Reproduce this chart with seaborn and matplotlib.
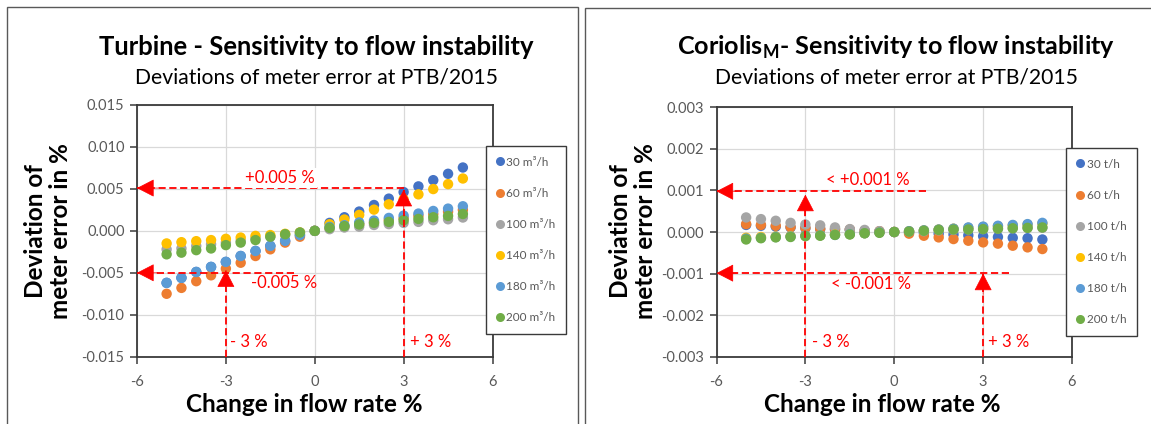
import matplotlib
matplotlib.use("Agg")
import matplotlib.pyplot as plt
import numpy as np
import pandas as pd
import seaborn as sns
from matplotlib.lines import Line2D
from matplotlib.patches import Rectangle

# ---------------- data ----------------
change_pct = [-5.0, -4.5, -4.0, -3.5, -3.0, -2.5, -2.0, -1.5, -1.0, -0.5, 0.0,
              0.5, 1.0, 1.5, 2.0, 2.5, 3.0, 3.5, 4.0, 4.5, 5.0]

turbine_labels = ["30 m³/h", "60 m³/h", "100 m³/h", "140 m³/h", "180 m³/h", "200 m³/h"]
turbine_30 = [-0.0062, -0.0056, -0.0049, -0.0043, -0.0037, -0.0030, -0.0024, -0.0018, -0.0012, -0.0005, 0.0,
              0.00095, 0.00162, 0.0023, 0.00308, 0.00384, 0.00462, 0.0053, 0.00604, 0.0068, 0.00755]
turbine_60 = [-0.0075, -0.0068, -0.0060, -0.0053, -0.0045, -0.0038, -0.0030, -0.0022, -0.0014, -0.0007, 0.0,
              0.0003, 0.0005, 0.0008, 0.0010, 0.0013, 0.0015, 0.0018, 0.0020, 0.0023, 0.0025]
turbine_100 = [-0.0022, -0.0021, -0.0018, -0.0016, -0.0014, -0.0012, -0.0009, -0.0007, -0.0005, -0.0002, 0.0,
               0.0002, 0.0004, 0.0005, 0.0007, 0.0008, 0.00095, 0.00107, 0.00127, 0.00138, 0.00159]
turbine_140 = [-0.0015, -0.00135, -0.00123, -0.0011, -0.00095, -0.0008, -0.0006, -0.0005, -0.00035, -0.0002, 0.0,
               0.00079, 0.00135, 0.0019, 0.00253, 0.00316, 0.00376, 0.00435, 0.00498, 0.00557, 0.00624]
turbine_180 = [-0.0062, -0.0056, -0.0049, -0.0043, -0.0037, -0.0030, -0.0024, -0.0018, -0.0012, -0.0005, 0.0,
               0.00047, 0.00067, 0.0010, 0.00123, 0.00154, 0.00182, 0.00206, 0.00237, 0.00265, 0.00293]
turbine_200 = [-0.0028, -0.0026, -0.0023, -0.0021, -0.0017, -0.0014, -0.0011, -0.0007, -0.0004, -0.0002, 0.0,
               0.00036, 0.00056, 0.00076, 0.00095, 0.00107, 0.00127, 0.00142, 0.00162, 0.00178, 0.00201]

coriolis_labels = ["30 t/h", "60 t/h", "100 t/h", "140 t/h", "180 t/h", "200 t/h"]
coriolis_30 = [0.00017, 0.00015, 0.00013, 0.00011, 0.00009, 0.00007, 0.00006, 0.00005, 0.00003, 0.00001, 0.0,
               -0.00001, -0.00002, -0.00004, -0.00006, -0.00008, -0.0001, -0.00012, -0.00014, -0.00015, -0.00018]
coriolis_60 = [0.00019, 0.00017, 0.00015, 0.00012, 0.0001, 0.00008, 0.00007, 0.00006, 0.00003, 0.00002, 0.0,
               -0.00004, -0.00009, -0.00013, -0.00017, -0.00021, -0.00025, -0.00028, -0.00033, -0.00037, -0.00041]
coriolis_100 = [0.00035, 0.00031, 0.00027, 0.00022, 0.00018, 0.00016, 0.00011, 0.00007, 0.00005, 0.00002, 0.0,
                0.00001, 0.00002, 0.00004, 0.00005, 0.00006, 0.00007, 0.00008, 0.00009, 0.0001, 0.0001]
coriolis_140 = [-0.00014, -0.00012, -0.00011, -0.0001, -0.00009, -0.00008, -0.00006, -0.00005, -0.00003, -0.00001, 0.0,
                0.00002, 0.00004, 0.00006, 0.00008, 0.0001, 0.00012, 0.00014, 0.00016, 0.00018, 0.0002]
coriolis_180 = [-0.00016, -0.00014, -0.00012, -0.00011, -0.00009, -0.00008, -0.00007, -0.00005, -0.00003, -0.00001, 0.0,
                0.00002, 0.00004, 0.00006, 0.00008, 0.00011, 0.00013, 0.00015, 0.00017, 0.00019, 0.00022]
coriolis_200 = [-0.00018, -0.00015, -0.00013, -0.00012, -0.0001, -0.00009, -0.00007, -0.00006, -0.00003, -0.00002, 0.0,
                0.00001, 0.00003, 0.00005, 0.00006, 0.00006, 0.00007, 0.00008, 0.00009, 0.0001, 0.00011]

x_ticks = [-6, -3, 0, 3, 6]
turbine_yticks = [-0.015, -0.010, -0.005, 0.0, 0.005, 0.010, 0.015]
coriolis_yticks = [-0.003, -0.002, -0.001, 0.0, 0.001, 0.002, 0.003]

colors = ["#4472C4", "#ED7D31", "#A5A5A5", "#FFC000", "#5B9BD5", "#70AD47"]

# ---------------- style ----------------
sns.set_style("ticks")
plt.rcParams['font.family'] = ['Lato', 'DejaVu Sans']
plt.rcParams['mathtext.fontset'] = 'custom'
plt.rcParams['mathtext.rm'] = 'Lato'
plt.rcParams['mathtext.bf'] = 'Lato:bold'

W, H = 1151, 424
fig = plt.figure(figsize=(W / 100, H / 100), dpi=100)
renderer = fig.canvas.get_renderer()


def fx(px):
    return px / W


def fy(py):
    return 1 - py / H


def fit(t, target, vertical=False):
    bb = t.get_window_extent(renderer)
    w = bb.height if vertical else bb.width
    t.set_fontsize(t.get_fontsize() * target / w)


def long_df(labels, series):
    frames = []
    for lab, vals in zip(labels, series):
        frames.append(pd.DataFrame({"change": change_pct, "dev": vals, "series": lab}))
    return pd.concat(frames, ignore_index=True)


def style_axes(ax, yticks):
    ax.set_xlim(-6, 6)
    ax.set_ylim(yticks[0], yticks[-1])
    ax.set_xticks(x_ticks)
    ax.set_xticklabels([str(v) for v in x_ticks])
    ax.set_yticks(yticks)
    ax.set_yticklabels([f"{v:.3f}" for v in yticks])
    ax.grid(True, color="#d9d9d9", lw=0.9)
    ax.set_axisbelow(True)
    for sp in ax.spines.values():
        sp.set_visible(True)
        sp.set_color("#3a3a3a")
        sp.set_linewidth(1.3)
    ax.tick_params(axis="both", direction="out", length=5, width=1.1, color="#3a3a3a",
                   labelcolor="#595959", labelsize=10.5)
    ax.tick_params(axis="x", pad=8)
    ax.tick_params(axis="y", pad=4)
    ax.set_xlabel("")
    ax.set_ylabel("")


RED = "red"


def hline_arrow(ax, y, x_from, x_tip):
    ax.plot([x_from, x_tip], [y, y], color=RED, lw=1.3, ls=(0, (4, 2)), zorder=4, clip_on=False)
    ax.annotate("", xy=(x_tip, y), xytext=(15, 0), textcoords="offset points",
                arrowprops=dict(arrowstyle="-|>,head_length=0.62,head_width=0.32", color=RED,
                                lw=0.5, mutation_scale=18, shrinkA=0, shrinkB=0), zorder=5)


def vline_arrow(ax, x, y_from, y_tip):
    ax.plot([x, x], [y_from, y_tip], color=RED, lw=1.3, ls=(0, (4, 2)), zorder=4, clip_on=False)
    ax.annotate("", xy=(x, y_tip), xytext=(0, -15), textcoords="offset points",
                arrowprops=dict(arrowstyle="-|>,head_length=0.62,head_width=0.32", color=RED,
                                lw=0.5, mutation_scale=18, shrinkA=0, shrinkB=0), zorder=5)


# ---------------- panel frames ----------------
fig.patches.append(Rectangle((fx(7), -0.2), fx(578) - fx(7), fy(7) + 0.2, transform=fig.transFigure,
                             fill=False, ec="#595959", lw=1.0))
fig.patches.append(Rectangle((fx(585), -0.2), 1.0, fy(8) + 0.2, transform=fig.transFigure,
                             fill=False, ec="#595959", lw=1.0))

# ---------------- left panel ----------------
axL = fig.add_axes([fx(137), fy(356.7), fx(492.5) - fx(137), fy(105) - fy(356.7)])
dfL = long_df(turbine_labels, [turbine_30, turbine_60, turbine_100, turbine_140, turbine_180, turbine_200])
sns.scatterplot(data=dfL, x="change", y="dev", hue="series", hue_order=turbine_labels, palette=colors,
                s=56, linewidth=0, legend=False, ax=axL, zorder=3)
style_axes(axL, turbine_yticks)

hline_arrow(axL, 0.0051, 3.0, -6.0)
vline_arrow(axL, 3.0, -0.015, 0.0049)
hline_arrow(axL, -0.005, -0.7, -6.0)
vline_arrow(axL, -3.0, -0.015, -0.0047)
axL.text(-1.17, 0.0063, "+0.005 %", color=RED, fontsize=12, ha="center", va="center", zorder=4,
         bbox=dict(facecolor="white", edgecolor="none", pad=1.5))
axL.text(-1.05, -0.0062, "-0.005 %", color=RED, fontsize=12, ha="center", va="center", zorder=4)
axL.text(-2.85, -0.0132, "- 3 %", color=RED, fontsize=12, ha="left", va="center", zorder=4)
axL.text(3.2, -0.0132, "+ 3 %", color=RED, fontsize=12, ha="left", va="center", zorder=4)

# ---------------- right panel ----------------
axR = fig.add_axes([fx(716.5), fy(356.7), fx(1072) - fx(716.5), fy(107.3) - fy(356.7)])
dfR = long_df(coriolis_labels, [coriolis_30, coriolis_60, coriolis_100, coriolis_140, coriolis_180, coriolis_200])
sns.scatterplot(data=dfR, x="change", y="dev", hue="series", hue_order=coriolis_labels, palette=colors,
                s=56, linewidth=0, legend=False, ax=axR, zorder=3)
style_axes(axR, coriolis_yticks)

hline_arrow(axR, 0.00098, 1.07, -6.0)
vline_arrow(axR, -3.0, -0.003, 0.0009)
hline_arrow(axR, -0.00099, 3.86, -6.0)
vline_arrow(axR, 3.0, -0.003, -0.001)
axR.text(-0.89, 0.00125, "< +0.001 %", color=RED, fontsize=12, ha="center", va="center", zorder=4)
axR.text(-0.78, -0.00125, "< -0.001 %", color=RED, fontsize=12, ha="center", va="center", zorder=4)
axR.text(-2.78, -0.00265, "- 3 %", color=RED, fontsize=12, ha="left", va="center", zorder=4)
axR.text(3.17, -0.00265, "+ 3 %", color=RED, fontsize=12, ha="left", va="center", zorder=4)

# ---------------- titles & labels ----------------
for cx, ylx, title, ytxt_x in [(316, 304, "Turbine - Sensitivity to flow instability", 48),
                                (896, 882, r"Coriolis$_\mathbf{M}$- Sensitivity to flow instability", 633)]:
    t = fig.text(fx(cx), fy(47), title, ha="center", va="center", fontsize=16, fontweight="bold", color="black")
    fit(t, 438)
    s = fig.text(fx(cx), fy(77), "Deviations of meter error at PTB/2015", ha="center", va="center",
                 fontsize=13, color="black")
    fit(s, 362)
    xl = fig.text(fx(ylx), fy(405), "Change in flow rate %", ha="center", va="center", fontsize=15,
                  fontweight="bold", color="black")
    fit(xl, 237)
    yl = fig.text(fx(ytxt_x), fy(231), "Deviation of\nmeter error in %", ha="center", va="center",
                  rotation=90, fontsize=15, fontweight="bold", color="black", multialignment="center",
                  linespacing=1.15)
    fit(yl, 177, vertical=True)

# ---------------- legends ----------------
for labels, lx, ly in [(turbine_labels, 485.7, 146), (coriolis_labels, 1066, 148)]:
    handles = [Line2D([], [], marker="o", ls="", color=c, markersize=6.5, markeredgewidth=0) for c in colors]
    leg = fig.legend(handles, labels, loc="upper left", bbox_to_anchor=(fx(lx), fy(ly)),
                     bbox_transform=fig.transFigure, frameon=True, fancybox=False, framealpha=1,
                     edgecolor="#3a3a3a", fontsize=8.5, labelspacing=1.7, handlelength=0.6,
                     handletextpad=0.25, borderpad=0.9, borderaxespad=0, labelcolor="#595959")
    leg.get_frame().set_linewidth(1.0)

fig.savefig("out.png", dpi=100)
